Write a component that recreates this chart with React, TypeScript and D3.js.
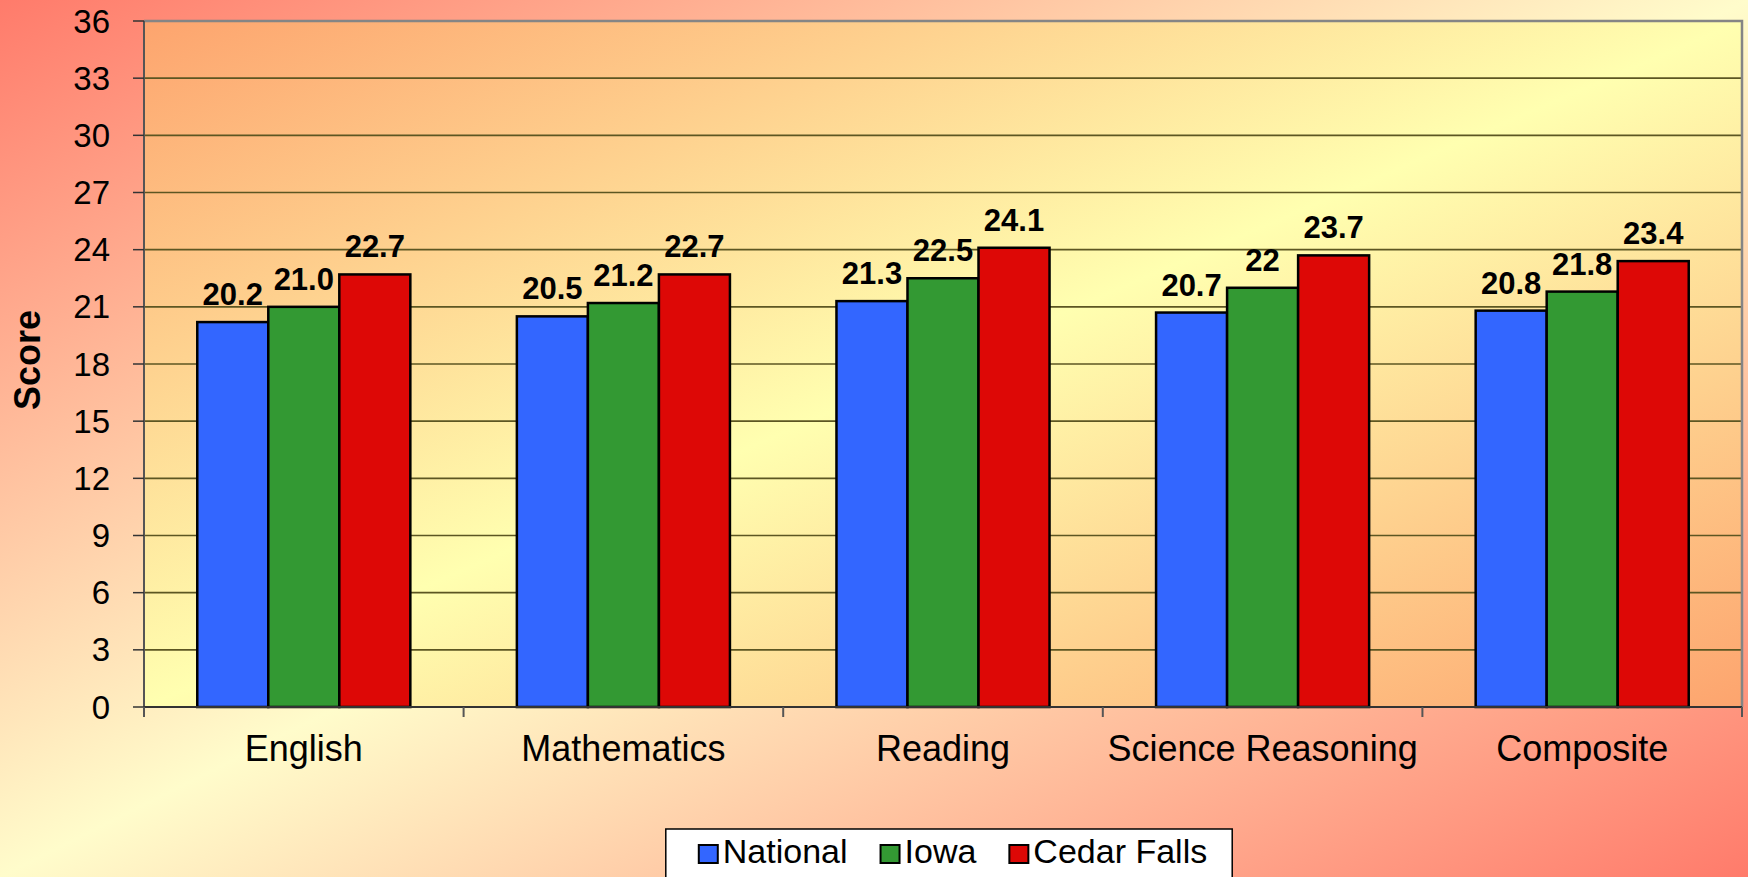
import React, { useRef, useEffect } from 'react';
import * as d3 from 'd3';

const categories = ['English', 'Mathematics', 'Reading', 'Science Reasoning', 'Composite'];
const seriesNames = ['National', 'Iowa', 'Cedar Falls'];
const national = [20.2, 20.5, 21.3, 20.7, 20.8];
const iowa = [21.0, 21.2, 22.5, 22.0, 21.8];
const cedarFalls = [22.7, 22.7, 24.1, 23.7, 23.4];
const valueLabels = [
  ['20.2', '20.5', '21.3', '20.7', '20.8'],
  ['21.0', '21.2', '22.5', '22', '21.8'],
  ['22.7', '22.7', '24.1', '23.7', '23.4'],
];
const yTicks = [0, 3, 6, 9, 12, 15, 18, 21, 24, 27, 30, 33, 36];
const colors = ['#3366FF', '#339933', '#DD0806'];

const W = 1748;
const H = 877;

const App = () => {
  const svgRef = useRef<SVGSVGElement>(null);

  useEffect(() => {
    document.body.style.margin = '0';
    const svg = d3.select(svgRef.current);
    svg.selectAll('*').remove();

    const margin = { top: 21, right: 6, bottom: 170, left: 144 };
    const x0 = margin.left;
    const x1 = W - margin.right;
    const y0 = margin.top;
    const y1 = H - margin.bottom;
    const font = 'Liberation Sans, Arial, sans-serif';

    const defs = svg.append('defs');
    const bg = defs.append('linearGradient').attr('id', 'bgGrad')
      .attr('x1', 0).attr('y1', 0).attr('x2', 1).attr('y2', 1);
    bg.append('stop').attr('offset', 0).attr('stop-color', '#FF7B6B');
    bg.append('stop').attr('offset', 0.5).attr('stop-color', '#FFFCCB');
    bg.append('stop').attr('offset', 1).attr('stop-color', '#FF7B6B');

    const pg = defs.append('linearGradient').attr('id', 'plotGrad')
      .attr('x1', 0).attr('y1', 0).attr('x2', 1).attr('y2', 1);
    pg.append('stop').attr('offset', 0).attr('stop-color', '#FDA46E');
    pg.append('stop').attr('offset', 0.5).attr('stop-color', '#FFFFB0');
    pg.append('stop').attr('offset', 1).attr('stop-color', '#FDA46E');

    svg.append('rect').attr('width', W).attr('height', H).attr('fill', 'url(#bgGrad)');
    svg.append('rect')
      .attr('x', x0).attr('y', y0)
      .attr('width', x1 - x0).attr('height', y1 - y0)
      .attr('fill', 'url(#plotGrad)');

    const y = d3.scaleLinear().domain([0, 36]).range([y1, y0]);
    const x = d3.scaleBand().domain(categories).range([x0, x1])
      .paddingInner(1 / 3).paddingOuter(1 / 6);
    const xs = d3.scaleBand().domain(seriesNames).range([0, x.bandwidth()]);

    // gridlines
    svg.append('g')
      .selectAll('line')
      .data(yTicks.filter(t => t > 0 && t < 36))
      .join('line')
      .attr('x1', x0).attr('x2', x1)
      .attr('y1', d => y(d)).attr('y2', d => y(d))
      .attr('stroke', '#5c5622')
      .attr('stroke-width', 1.6);

    // plot border top/right
    svg.append('path')
      .attr('d', `M${x0},${y0}H${x1}V${y1}`)
      .attr('fill', 'none')
      .attr('stroke', '#858585')
      .attr('stroke-width', 2.5);

    // bars
    const series = [national, iowa, cedarFalls];
    series.forEach((vals, si) => {
      svg.append('g')
        .selectAll('rect')
        .data(vals)
        .join('rect')
        .attr('x', (d, i) => x(categories[i])! + xs(seriesNames[si])!)
        .attr('y', d => y(d))
        .attr('width', xs.bandwidth())
        .attr('height', d => y(0) - y(d))
        .attr('fill', colors[si])
        .attr('stroke', '#000')
        .attr('stroke-width', 2.5);

      svg.append('g')
        .selectAll('text')
        .data(vals)
        .join('text')
        .attr('x', (d, i) => x(categories[i])! + xs(seriesNames[si])! + xs.bandwidth() / 2)
        .attr('y', d => y(d) - 17)
        .attr('text-anchor', 'middle')
        .attr('font-family', font)
        .attr('font-weight', 'bold')
        .attr('font-size', 31)
        .attr('fill', '#000')
        .text((d, i) => valueLabels[si][i]);
    });

    // y axis
    svg.append('line')
      .attr('x1', x0).attr('x2', x0).attr('y1', y0).attr('y2', y1 + 10)
      .attr('stroke', '#555').attr('stroke-width', 2);
    const yt = svg.append('g').selectAll('g').data(yTicks).join('g');
    yt.append('line')
      .attr('x1', x0 - 11).attr('x2', x0)
      .attr('y1', d => y(d)).attr('y2', d => y(d))
      .attr('stroke', '#333').attr('stroke-width', 1.5);
    yt.append('text')
      .attr('x', 110)
      .attr('y', d => y(d))
      .attr('dy', '0.35em')
      .attr('text-anchor', 'end')
      .attr('font-family', font)
      .attr('font-size', 33)
      .attr('fill', '#000')
      .text(d => d);

    // x axis
    svg.append('line')
      .attr('x1', x0).attr('x2', x1).attr('y1', y1).attr('y2', y1)
      .attr('stroke', '#333').attr('stroke-width', 2);
    const gap = x.step() - x.bandwidth();
    const bounds = categories.map(c => x(c)! - gap / 2).concat([x1]);
    svg.append('g').selectAll('line').data(bounds).join('line')
      .attr('x1', d => d).attr('x2', d => d)
      .attr('y1', y1).attr('y2', y1 + 10)
      .attr('stroke', '#555').attr('stroke-width', 2);
    svg.append('g').selectAll('text').data(categories).join('text')
      .attr('x', d => x(d)! + x.bandwidth() / 2)
      .attr('y', y1 + 54)
      .attr('text-anchor', 'middle')
      .attr('font-family', font)
      .attr('font-size', 36)
      .attr('fill', '#000')
      .text(d => d);

    svg.append('text')
      .attr('transform', `translate(40,${(y0 + y1) / 2 - 4}) rotate(-90)`)
      .attr('text-anchor', 'middle')
      .attr('font-family', font)
      .attr('font-weight', 'bold')
      .attr('font-size', 36)
      .attr('fill', '#000')
      .text('Score');

    // legend
    const lg = svg.append('g');
    const box = lg.append('rect')
      .attr('y', 829).attr('height', 80)
      .attr('fill', '#fff').attr('stroke', '#000').attr('stroke-width', 1.5);
    const itemGap = 33;
    let cx = 0;
    const items = lg.append('g');
    seriesNames.forEach((name, i) => {
      const it = items.append('g').attr('transform', `translate(${cx},0)`);
      it.append('rect')
        .attr('x', 0).attr('y', 845).attr('width', 19).attr('height', 18)
        .attr('fill', colors[i]).attr('stroke', '#000').attr('stroke-width', 2);
      const t = it.append('text')
        .attr('x', 24).attr('y', 863)
        .attr('font-family', font)
        .attr('font-size', 34)
        .attr('fill', '#000')
        .text(name);
      const w = (t.node() as SVGTextElement).getComputedTextLength();
      cx += 24 + w + itemGap;
    });
    const contentW = cx - itemGap;
    const boxW = contentW + 58;
    const boxX = (x0 + x1) / 2 + 6 - boxW / 2;
    box.attr('x', boxX).attr('width', boxW);
    items.attr('transform', `translate(${boxX + 33},0)`);
  }, []);

  return <svg ref={svgRef} width={W} height={H} style={{ display: 'block' }} />;
};

export default App;
